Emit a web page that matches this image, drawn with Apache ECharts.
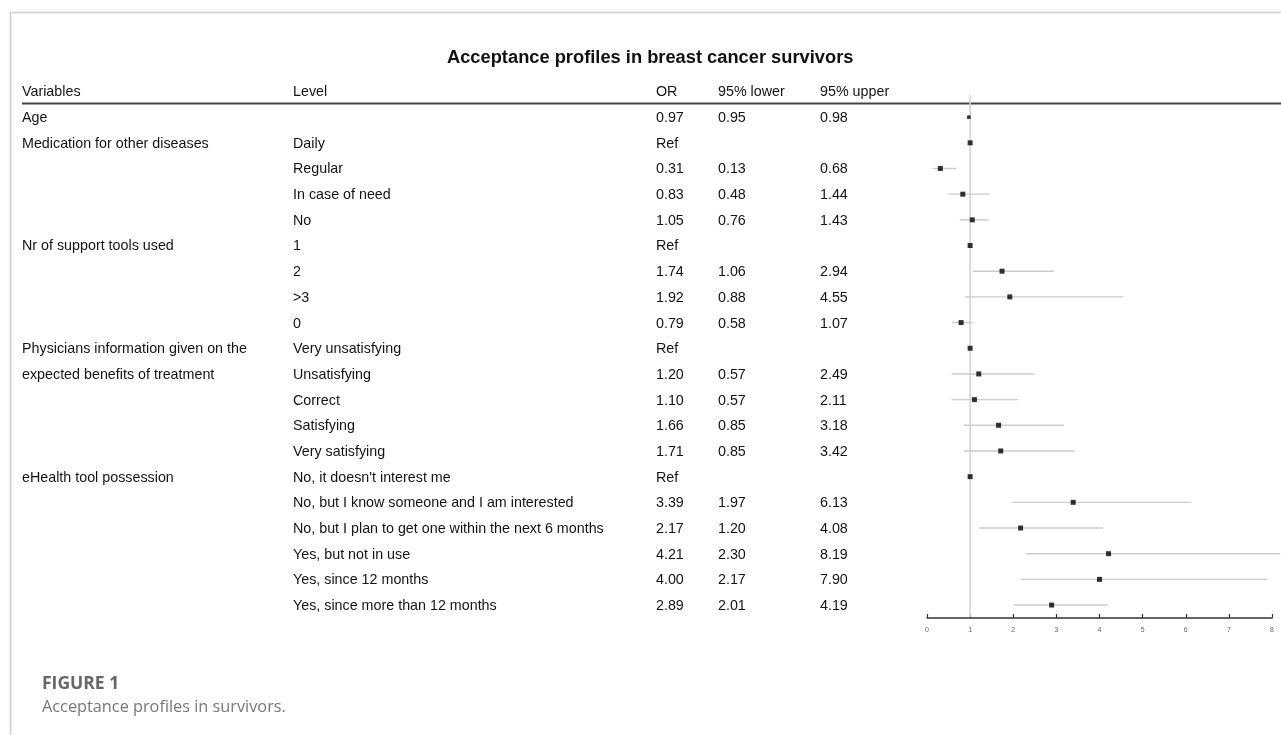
<!DOCTYPE html>
<html>
<head>
<meta charset="utf-8">
<script src="https://cdn.jsdelivr.net/npm/echarts@6/dist/echarts.min.js"></script>
<style>
html,body{margin:0;padding:0;background:#fff;}
#chart{width:1281px;height:735px;}
</style>
</head>
<body>
<div id="chart"></div>
<script>
// ---- data ----
const headers = ['Variables', 'Level', 'OR', '95% lower', '95% upper'];
const variables = ['Age', 'Medication for other diseases', '', '', '', 'Nr of support tools used', '', '', '',
  'Physicians information given on the', 'expected benefits of treatment', '', '', '',
  'eHealth tool possession', '', '', '', '', ''];
const levels = ['', 'Daily', 'Regular', 'In case of need', 'No', '1', '2', '>3', '0',
  'Very unsatisfying', 'Unsatisfying', 'Correct', 'Satisfying', 'Very satisfying',
  "No, it doesn't interest me", 'No, but I know someone and I am interested',
  'No, but I plan to get one within the next 6 months', 'Yes, but not in use',
  'Yes, since 12 months', 'Yes, since more than 12 months'];
// OR = 1 for reference levels (shown as "Ref")
const orValues = [0.97, 1, 0.31, 0.83, 1.05, 1, 1.74, 1.92, 0.79, 1, 1.20, 1.10, 1.66, 1.71, 1, 3.39, 2.17, 4.21, 4.00, 2.89];
const lowerValues = [0.95, null, 0.13, 0.48, 0.76, null, 1.06, 0.88, 0.58, null, 0.57, 0.57, 0.85, 0.85, null, 1.97, 1.20, 2.30, 2.17, 2.01];
const upperValues = [0.98, null, 0.68, 1.44, 1.43, null, 2.94, 4.55, 1.07, null, 2.49, 2.11, 3.18, 3.42, null, 6.13, 4.08, 8.19, 7.90, 4.19];
const xTicks = { min: 0, max: 8, interval: 1 };
const titleText = 'Acceptance profiles in breast cancer survivors';
const figLabel = 'FIGURE 1';
const figCaption = 'Acceptance profiles in survivors.';

// ---- build ----
const FONT = "'Liberation Sans', Arial, sans-serif";
const nRows = orValues.length;
const cats = ['h'].concat(orValues.map((_, i) => 'r' + i));
const fmt = v => (v == null ? '' : v.toFixed(2));

function rowText(idx) {
  let cols;
  if (idx === 0) cols = headers;
  else {
    const i = idx - 1;
    const isRef = lowerValues[i] == null;
    cols = [variables[i], levels[i], isRef ? 'Ref' : fmt(orValues[i]), fmt(lowerValues[i]), fmt(upperValues[i])];
  }
  const keys = ['a', 'b', 'c', 'd', 'e'];
  return cols.map((t, k) => '{' + keys[k] + '|' + (t === '' ? ' ' : t) + '}').join('');
}

const txt = { fontFamily: FONT, fontSize: 14.3, color: '#141414', align: 'left', padding: [2, 0, 0, 0] };
const rich = {
  a: Object.assign({ width: 271 }, txt),
  b: Object.assign({ width: 363 }, txt),
  c: Object.assign({ width: 62 }, txt),
  d: Object.assign({ width: 102 }, txt),
  e: Object.assign({ width: 80 }, txt)
};

const ciData = [];
const ptData = [];
for (let i = 0; i < nRows; i++) {
  ptData.push([orValues[i], 'r' + i]);
  if (lowerValues[i] != null) ciData.push([lowerValues[i], upperValues[i], 'r' + i]);
}

const chart = echarts.init(document.getElementById('chart'), null, { renderer: 'canvas' });
const option = {
  backgroundColor: '#fff',
  animation: false,
  title: [
    { text: titleText, left: 442, top: 43.5, textStyle: { fontFamily: FONT, fontSize: 18.3, fontWeight: 'bold', color: '#111' } },
    { text: figLabel, left: 37, top: 670, textStyle: { fontFamily: "'Open Sans', sans-serif", fontSize: 17.5, fontWeight: 'bold', color: '#666' } },
    { text: figCaption, left: 37, top: 694.5, textStyle: { fontFamily: "'Open Sans', sans-serif", fontSize: 16.3, fontWeight: 'normal', color: '#777' } }
  ],
  grid: { left: 927, right: 9, top: 78.6, height: 539.3, outerBoundsMode: 'none', containLabel: false },
  xAxis: {
    type: 'value', min: xTicks.min, max: xTicks.max, interval: xTicks.interval,
    axisLine: { show: true, lineStyle: { color: '#333', width: 1.5 } },
    axisTick: { show: true, inside: true, length: 4, lineStyle: { color: '#333', width: 1.2 } },
    axisLabel: { fontFamily: FONT, fontSize: 7, color: '#666', margin: 9, showMinLabel: true, showMaxLabel: true },
    splitLine: { show: false }
  },
  yAxis: {
    type: 'category', inverse: true, data: cats,
    axisLine: { show: false }, axisTick: { show: false }, splitLine: { show: false },
    axisLabel: {
      interval: 0, margin: 905, align: 'left', verticalAlign: 'middle',
      formatter: (v, idx) => rowText(idx), rich: rich
    }
  },
  graphic: [
    { type: 'line', shape: { x1: 10, y1: 12.5, x2: 1281, y2: 12.5 }, style: { stroke: '#cfcfcf', lineWidth: 1.5 }, silent: true },
    { type: 'line', shape: { x1: 10.5, y1: 12, x2: 10.5, y2: 735 }, style: { stroke: '#cfcfcf', lineWidth: 1.5 }, silent: true },
    { type: 'line', shape: { x1: 22, y1: 103.5, x2: 1281, y2: 103.5 }, style: { stroke: '#444', lineWidth: 2 }, silent: true }
  ],
  series: [
    {
      type: 'custom', name: 'ref', clip: false, silent: true, z: 1,
      data: [[1]],
      renderItem: (params, api) => {
        const cs = params.coordSys;
        const x = api.coord([api.value(0), 'h'])[0];
        return { type: 'line', shape: { x1: x, y1: cs.y + 16.5, x2: x, y2: cs.y + cs.height - 1 },
          style: { stroke: '#d4d4d4', lineWidth: 1.6 } };
      }
    },
    {
      type: 'custom', name: 'ci', clip: false, silent: true, z: 2,
      data: ciData,
      encode: { x: [0, 1], y: 2 },
      renderItem: (params, api) => {
        const p1 = api.coord([api.value(0), api.value(2)]);
        const p2 = api.coord([api.value(1), api.value(2)]);
        return { type: 'line', shape: { x1: p1[0], y1: p1[1], x2: p2[0], y2: p2[1] },
          style: { stroke: '#cccccc', lineWidth: 1.4 } };
      }
    },
    {
      type: 'scatter', name: 'OR', z: 3, silent: true,
      symbol: 'rect',
      symbolSize: (val, p) => (p.dataIndex === 0 ? 3.5 : 5),
      itemStyle: { color: '#000' },
      data: ptData
    }
  ]
};
chart.setOption(option);
</script>
</body>
</html>
